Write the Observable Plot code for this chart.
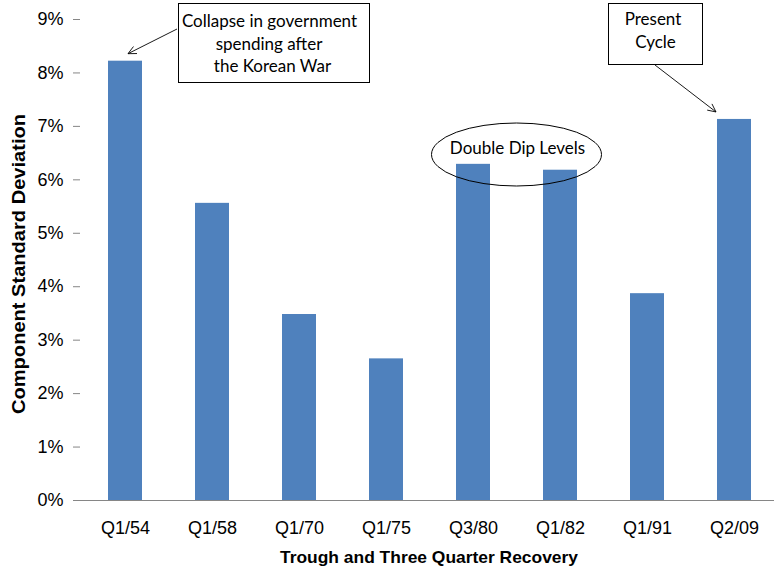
<!DOCTYPE html>
<html>
<head>
<meta charset="utf-8">
<script src="https://cdn.jsdelivr.net/npm/d3@7"></script>
<script src="https://cdn.jsdelivr.net/npm/@observablehq/plot@0.6"></script>
<style>
  html, body { margin: 0; padding: 0; background: #fff; }
  #chart svg { display: block; }
</style>
</head>
<body>
<div id="chart"></div>
<script>
// Trough dates of each recession, with the standard deviation of GDP
// component contributions over the trough and three-quarter recovery.
const categories = ["Q1/54", "Q1/58", "Q1/70", "Q1/75", "Q3/80", "Q1/82", "Q1/91", "Q2/09"];
const values = [8.22, 5.56, 3.48, 2.65, 6.29, 6.18, 3.87, 7.13];
const yTicks = [0, 1, 2, 3, 4, 5, 6, 7, 8, 9];

const xTitle = "Trough and Three Quarter Recovery";
const yTitle = "Component Standard Deviation";
const noteKorea = ["Collapse in government", "spending after", "the Korean War"];
const notePresent = ["Present", "Cycle"];
const noteDouble = "Double Dip Levels";

const rows = categories.map((c, i) => ({cycle: c, sd: values[i]}));

const axisGrey = "#868686";
const barBlue = "#4F81BD";
const sans = "Liberation Sans";

const chart = Plot.plot({
  width: 774,
  height: 571,
  marginTop: 19,
  marginBottom: 71,
  marginLeft: 80,
  marginRight: 0,
  style: {fontFamily: sans, fontSize: "18px", color: "#000", background: "#fff", overflow: "visible"},
  x: {domain: categories, range: [80.5, 779.3], paddingInner: 0.61, paddingOuter: 0.305},
  y: {domain: [0, 9]},
  marks: [
    Plot.barY(rows, {x: "cycle", y: "sd", fill: barBlue}),
    Plot.ruleY([0], {stroke: axisGrey, strokeWidth: 1.2}),
    Plot.axisY({ticks: yTicks, tickFormat: d => d + "%", tickSize: 7, tickPadding: 10, stroke: axisGrey, fill: "#000", line: true, label: null, fontFamily: sans, fontSize: 18}),
    Plot.axisX({tickSize: 0, tickPadding: 21, fill: "#000", label: null, fontFamily: sans, fontSize: 18}),
    Plot.text([yTitle], {className: "y-title", frameAnchor: "left", dx: -61.5, dy: 4, rotate: -90, fontWeight: "bold", fontFamily: sans, fontSize: 17.5, textAnchor: "middle", lineAnchor: "middle"}),
    Plot.text([xTitle], {className: "x-title", frameAnchor: "bottom", dx: 1.5, dy: 57.5, fontWeight: "bold", fontFamily: sans, fontSize: 17, textAnchor: "middle", lineAnchor: "middle"})
  ]
});
document.getElementById("chart").append(chart);

// Stretch the axis titles to their set lengths
d3.select(chart).select(".y-title text").attr("textLength", 300).attr("lengthAdjust", "spacingAndGlyphs");
d3.select(chart).select(".x-title text").attr("textLength", 298).attr("lengthAdjust", "spacingAndGlyphs");

// Annotation layer: callout boxes, arrows and the ellipse, tied to the bars via the scales.
const xs = chart.scale("x");
const ys = chart.scale("y");
const bw = xs.bandwidth;
const barX = c => xs.apply(c);
const barTop = c => ys.apply(values[categories.indexOf(c)]);

const svg = d3.select(chart);
const notes = svg.append("g")
  .attr("font-family", "Lato, 'Open Sans', sans-serif")
  .attr("font-size", 17)
  .attr("fill", "#000");

function arrow(x1, y1, x2, y2) {
  const a = Math.atan2(y2 - y1, x2 - x1);
  const len = 9, spread = 0.45;
  const p1 = [x2 - len * Math.cos(a - spread), y2 - len * Math.sin(a - spread)];
  const p2 = [x2 - len * Math.cos(a + spread), y2 - len * Math.sin(a + spread)];
  notes.append("path")
    .attr("d", `M${x1},${y1}L${x2},${y2}M${p1[0]},${p1[1]}L${x2},${y2}L${p2[0]},${p2[1]}`)
    .attr("fill", "none").attr("stroke", "#000").attr("stroke-width", 0.9);
}

function box(x, y, w, h, lines, cxs, baseline, step) {
  notes.append("rect").attr("x", x).attr("y", y).attr("width", w).attr("height", h)
    .attr("fill", "#fff").attr("stroke", "#000").attr("stroke-width", 1);
  lines.forEach((t, i) => {
    notes.append("text").attr("x", cxs[i]).attr("y", baseline + i * step)
      .attr("text-anchor", "middle").text(t);
  });
}

// Korean War callout
const k0 = barX("Q1/54");
box(178.5, 3.5, 191, 79, noteKorea, [269.5, 269, 272.5], 27, 22.5);
arrow(177, 29, k0 + 20, barTop("Q1/54") - 7);

// Present cycle callout
const p0 = barX("Q2/09");
box(608.5, 3.5, 94, 61, notePresent, [653, 655.5], 25, 23);
arrow(655, 65, p0 - 1, barTop("Q2/09") - 7);

// Ellipse around the two double-dip bars
const d1 = barX("Q3/80"), d2 = barX("Q1/82") + bw;
const ecx = (d1 + d2) / 2;
notes.append("ellipse")
  .attr("cx", ecx).attr("cy", 154.5).attr("rx", 85).attr("ry", 31.5)
  .attr("fill", "none").attr("stroke", "#000").attr("stroke-width", 1);
notes.append("text").attr("x", ecx + 1).attr("y", 154).attr("text-anchor", "middle").text(noteDouble);
</script>
</body>
</html>
